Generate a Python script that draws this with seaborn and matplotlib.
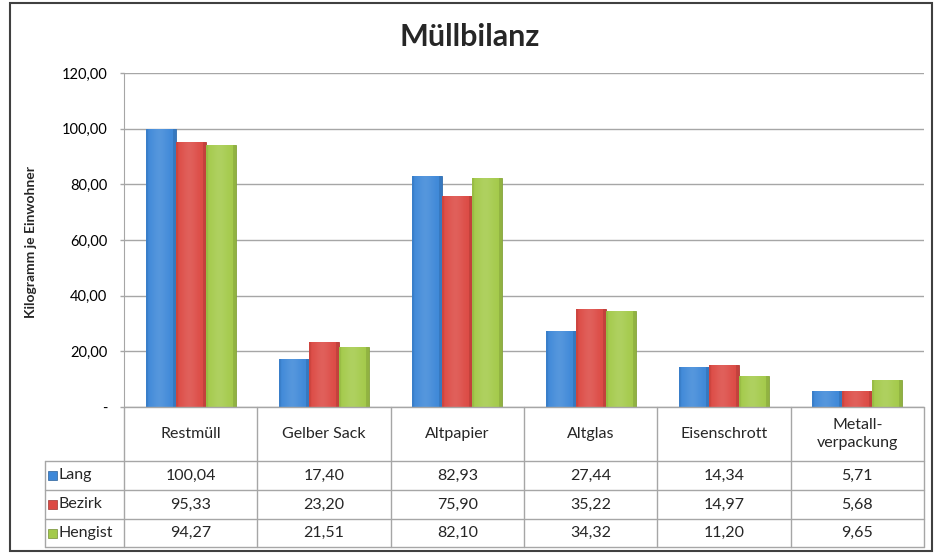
import numpy as np
import pandas as pd
import matplotlib
matplotlib.use("Agg")
import matplotlib.pyplot as plt
import matplotlib.colors as mcolors
from matplotlib.patches import Rectangle
from matplotlib.ticker import FuncFormatter
import seaborn as sns

# Daten
kategorien = ['Restmüll', 'Gelber Sack', 'Altpapier', 'Altglas', 'Eisenschrott', 'Metall-\nverpackung']
regionen = ['Lang', 'Bezirk', 'Hengist']
lang = [100.04, 17.40, 82.93, 27.44, 14.34, 5.71]
bezirk = [95.33, 23.20, 75.90, 35.22, 14.97, 5.68]
hengist = [94.27, 21.51, 82.10, 34.32, 11.20, 9.65]
farben = ['#3E88D8', '#DC4A44', '#A4CA4A']
y_ticks = [0, 20, 40, 60, 80, 100, 120]

werte = {'Lang': lang, 'Bezirk': bezirk, 'Hengist': hengist}
df = pd.DataFrame([
    {'Kategorie': k, 'Region': r, 'Wert': werte[r][i]}
    for r in regionen for i, k in enumerate(kategorien)
])

sns.set_style('white')
plt.rcParams['font.family'] = ['Lato', 'DejaVu Sans']

W, H = 940, 554
fig = plt.figure(figsize=(W / 100, H / 100), dpi=100)

# Plotbereich
x0, x1 = 124, 924
y_top, y_zero, y_tab = 73, 407, 547
ax = fig.add_axes([x0 / W, 1 - y_zero / H, (x1 - x0) / W, (y_zero - y_top) / H])

sns.barplot(data=df, x='Kategorie', y='Wert', hue='Region', order=kategorien,
            hue_order=regionen, palette=farben, saturation=1, width=0.675,
            legend=False, ax=ax)

# Glanz-Effekt auf den Balken
for bar in list(ax.patches):
    bx, by = bar.get_x(), bar.get_y()
    bw, bh = bar.get_width(), bar.get_height()
    if bh <= 0:
        continue
    base = np.array(mcolors.to_rgb(bar.get_facecolor()))
    t = np.linspace(0, 1, 40)
    prof = 0.12 * np.exp(-((t - 0.45) / 0.3) ** 2) - 0.12 * (t > 0.92) - 0.08 * (t < 0.06)
    cols = np.clip(base[None, :] + prof[:, None] * np.where(prof[:, None] > 0, 1 - base[None, :], base[None, :]), 0, 1)
    img = np.concatenate([cols, np.ones((40, 1))], axis=1)[None, :, :]
    im = ax.imshow(img, extent=[bx, bx + bw, by, by + bh], aspect='auto', zorder=3)
    im.set_clip_path(bar)
    bar.set_edgecolor(tuple(base * 0.8))
    bar.set_linewidth(0.6)
    bar.set_zorder(2)

ax.set_xlim(-0.5, len(kategorien) - 0.5)
ax.set_ylim(0, 120)
ax.set_yticks(y_ticks)
ax.yaxis.set_major_formatter(FuncFormatter(lambda v, p: '-' if v == 0 else f'{v:.2f}'.replace('.', ',')))
ax.set_xticks([])
ax.set_xlabel('')
ax.set_ylabel('')
ax.yaxis.grid(True, color='#A6A6A6', linewidth=1)
ax.set_axisbelow(True)
for s in ['top', 'right', 'bottom']:
    ax.spines[s].set_visible(False)
ax.spines['left'].set_color('#A6A6A6')
ax.tick_params(axis='y', left=True, length=3, width=1, color='#A6A6A6',
               labelsize=10.5, pad=9, labelcolor='black')

fig.text(31 / W, 1 - 242 / H, 'Kilogramm je Einwohner', rotation=90, ha='center',
         va='center', fontsize=10, fontweight='bold')
fig.text(470 / W, 1 - 37 / H, 'Müllbilanz', ha='center', va='center',
         fontsize=22, fontweight='bold')

# Datentabelle
tax = fig.add_axes([x0 / W, 1 - y_tab / H, (x1 - x0) / W, (y_tab - y_zero) / H])
tax.set_xlim(-0.5, len(kategorien) - 0.5)
tax.set_ylim(y_tab - y_zero, 0)
tax.axis('off')
px = len(kategorien) / (x1 - x0)
rows = [0, 54, 83, 112, 140]
left = -0.5 - 79 * px
grid = dict(color='#A6A6A6', linewidth=1, clip_on=False)
for i in range(len(kategorien) + 1):
    tax.plot([i - 0.5, i - 0.5], [rows[0], rows[-1]], **grid)
for j, yy in enumerate(rows):
    xs = -0.5 if j == 0 else left
    tax.plot([xs, len(kategorien) - 0.5], [yy, yy], **grid)
tax.plot([left, left], [rows[1], rows[-1]], **grid)

for i, k in enumerate(kategorien):
    tax.text(i, (rows[0] + rows[1]) / 2, k, ha='center', va='center', fontsize=11.5,
             linespacing=1.3)
for j, r in enumerate(regionen):
    yc = (rows[j + 1] + rows[j + 2]) / 2
    tax.add_patch(Rectangle((left + 3 * px, yc - 4.5), 9 * px, 9, facecolor=farben[j],
                            edgecolor=tuple(np.array(mcolors.to_rgb(farben[j])) * 0.7),
                            linewidth=0.5, clip_on=False))
    tax.text(left + 14 * px, yc, r, ha='left', va='center', fontsize=11.5, clip_on=False)
    for i, v in enumerate(werte[r]):
        tax.text(i, yc, f'{v:.2f}'.replace('.', ','), ha='center', va='center', fontsize=11.5)

# Rahmen
fig.patches.append(Rectangle((10 / W, 1 - 551 / H), 922 / W, 548 / H, transform=fig.transFigure,
                             fill=False, edgecolor='#404040', linewidth=1.5))

fig.savefig('out.png', dpi=100)
